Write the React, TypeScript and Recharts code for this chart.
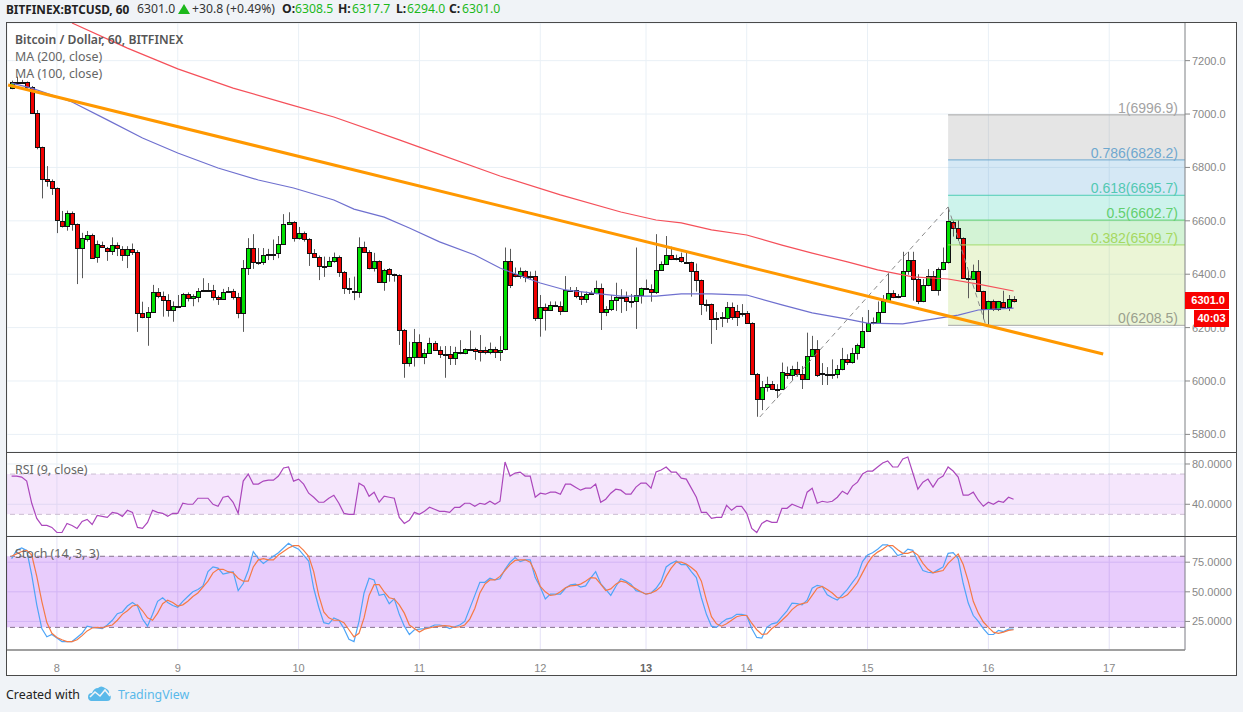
import React from 'react';
import {
  ComposedChart,
  Bar,
  Line,
  XAxis,
  YAxis,
  CartesianGrid,
  ReferenceArea,
  ReferenceLine,
} from 'recharts';

// hourly candles
const candleOpen = [7097,7118,7120,7120,7100,7003,6875,6755,6750,6722,6600,6580,6628,6587,6500,6532,6548,6463,6511,6500,6486,6511,6496,6471,6496,6482,6256,6241,6260,6335,6320,6305,6265,6282,6282,6327,6310,6316,6341,6340,6341,6314,6308,6333,6338,6316,6256,6425,6500,6445,6447,6472,6474,6478,6512,6587,6597,6535,6553,6532,6479,6466,6430,6432,6448,6463,6410,6350,6338,6332,6503,6485,6424,6450,6372,6421,6400,6398,6191,6069,6088,6147,6088,6106,6141,6115,6100,6100,6085,6110,6104,6118,6118,6116,6116,6110,6120,6107,6119,6448,6400,6392,6413,6388,6395,6235,6279,6267,6283,6280,6263,6341,6339,6320,6306,6328,6329,6347,6257,6268,6302,6316,6314,6299,6300,6323,6349,6346,6332,6417,6437,6473,6458,6463,6445,6445,6412,6377,6290,6288,6231,6237,6236,6277,6262,6255,6254,6217,6025,5932,5977,5988,5970,5971,6030,6023,6044,6026,6008,6095,6120,6026,6026,6024,6026,6045,6081,6070,6105,6128,6189,6217,6219,6260,6300,6331,6314,6319,6412,6452,6382,6301,6358,6392,6342,6419,6445,6597,6572,6535,6385,6383,6413,6336,6271,6301,6270,6297,6277,6308.5];
const candleHigh = [7125,7140,7128,7122,7105,7015,6878,6805,6755,6725,6637,6638,6635,6590,6555,6562,6552,6526,6522,6502,6538,6519,6505,6505,6515,6490,6297,6277,6360,6348,6335,6325,6298,6322,6330,6332,6325,6348,6385,6367,6360,6320,6345,6352,6345,6330,6453,6535,6550,6498,6498,6495,6530,6543,6625,6632,6599,6577,6560,6535,6494,6470,6466,6465,6481,6470,6412,6386,6391,6538,6522,6490,6480,6452,6420,6423,6402,6400,6195,6147,6195,6175,6120,6162,6150,6130,6131,6131,6128,6153,6122,6189,6125,6172,6128,6144,6128,6168,6500,6495,6425,6425,6415,6410,6413,6322,6290,6298,6298,6298,6393,6352,6352,6335,6335,6338,6376,6365,6280,6322,6368,6344,6335,6326,6500,6350,6380,6362,6550,6448,6543,6503,6473,6481,6481,6447,6440,6380,6305,6290,6258,6258,6296,6294,6285,6288,6262,6220,6030,6000,6016,6000,5988,6069,6054,6057,6072,6056,6181,6169,6153,6067,6052,6081,6060,6124,6100,6124,6140,6239,6266,6238,6298,6322,6405,6340,6326,6484,6484,6484,6400,6382,6419,6412,6425,6500,6650,6601,6602,6538,6413,6436,6453,6338,6301,6305,6300,6338,6322,6317.7];
const candleLow = [7093,7115,7116,7095,7000,6868,6684,6728,6697,6554,6575,6563,6563,6363,6385,6522,6458,6443,6498,6450,6472,6468,6450,6423,6472,6184,6235,6132,6256,6310,6241,6241,6222,6278,6278,6298,6280,6295,6338,6338,6302,6285,6305,6330,6305,6235,6184,6397,6420,6435,6435,6453,6453,6460,6510,6585,6522,6530,6522,6431,6464,6378,6390,6428,6443,6390,6326,6326,6303,6312,6480,6418,6410,6370,6338,6372,6372,6135,6012,6054,6054,6088,6063,6104,6113,6086,6012,6060,6060,6100,6100,6115,6079,6073,6100,6100,6086,6075,6115,6348,6388,6383,6370,6380,6225,6166,6189,6262,6278,6247,6260,6336,6310,6285,6293,6325,6325,6191,6243,6262,6262,6255,6262,6275,6195,6290,6343,6297,6326,6415,6435,6453,6452,6443,6440,6316,6335,6247,6260,6139,6191,6202,6218,6229,6206,6241,6215,6023,5866,5891,5960,5966,5936,5968,6008,6004,6016,5970,6005,6090,6015,5985,5985,6008,6010,6040,6060,6065,6080,6122,6185,6212,6217,6255,6296,6310,6310,6315,6398,6301,6288,6295,6355,6340,6320,6415,6440,6541,6525,6382,6310,6378,6334,6231,6210,6262,6262,6275,6262,6294];
const candleClose = [7120,7120,7118,7102,7003,6878,6755,6750,6722,6603,6582,6628,6587,6500,6535,6548,6461,6515,6501,6486,6511,6498,6471,6496,6482,6256,6241,6260,6335,6320,6305,6265,6282,6280,6327,6310,6318,6338,6340,6341,6314,6308,6335,6338,6316,6256,6425,6500,6445,6443,6472,6474,6477,6512,6587,6597,6535,6553,6532,6479,6466,6430,6428,6448,6463,6410,6350,6343,6332,6503,6485,6422,6450,6372,6416,6400,6398,6191,6069,6088,6147,6088,6106,6141,6115,6100,6098,6085,6110,6104,6118,6118,6111,6110,6110,6121,6107,6117,6448,6358,6392,6412,6388,6395,6235,6279,6267,6283,6282,6263,6341,6342,6320,6306,6326,6329,6349,6257,6268,6302,6316,6315,6298,6300,6323,6348,6350,6332,6417,6437,6473,6456,6460,6448,6443,6412,6377,6290,6288,6231,6237,6238,6277,6240,6240,6256,6217,6025,5932,5977,5988,5970,5971,6032,6023,6044,6026,6008,6095,6120,6022,6030,6024,6026,6045,6083,6070,6105,6133,6189,6217,6220,6260,6300,6331,6314,6319,6412,6452,6382,6301,6358,6392,6342,6419,6445,6598,6572,6535,6385,6383,6413,6336,6271,6301,6271,6298,6277,6308,6301];

const ma100Idx = [0,4,12,19,26,33,41,49,56,64,68,74,79,85,92,97,105,110,115,121,128,133,139,146,153,159,166,170,177,182,188,192,199];
const ma100Vals = [7116,7097,7045,6978,6910,6854,6798,6753,6723,6678,6644,6614,6573,6521,6472,6423,6367,6341,6330,6318,6318,6326,6326,6322,6285,6255,6232,6217,6214,6229,6247,6266,6273];
const ma200Idx = [12,23,33,44,55,64,77,81,97,109,121,128,133,139,146,153,159,166,172,179,186,192,199];
const ma200Vals = [7341,7247,7169,7097,7037,6989,6903,6876,6768,6697,6633,6603,6592,6566,6547,6509,6479,6446,6416,6390,6382,6363,6337];

const rsiVals = [68,68,67,63,41,26,19,19,17,12,12,21,19,16,23,25,20,29,28,27,32,31,28,34,32,17,16,22,34,32,31,28,31,31,41,40,40,46,46,46,40,38,47,48,42,31,63,70,60,60,63,64,64,68,76,77,63,65,60,51,47,42,42,46,49,41,31,30,30,61,58,48,52,42,48,47,46,27,21,24,32,30,33,37,35,33,33,32,37,37,41,41,38,41,40,43,40,43,82,68,71,72,68,68,47,51,50,52,52,50,60,60,57,54,56,56,60,42,45,51,55,54,50,50,57,61,61,56,72,74,77,72,72,66,65,56,47,32,32,26,27,27,39,34,38,38,31,16,12,21,24,22,22,36,36,40,38,36,52,56,41,43,42,43,47,53,50,58,62,70,73,73,77,81,83,77,77,85,87,71,55,62,65,57,65,68,77,73,67,49,49,52,44,38,42,40,43,42,47,45];
const stochK = [78,85,87,85,64,39,19,12,14,11,8,8,8,11.5,15,21,20,19.5,19,22,26,31.5,33,38,41,38,27,21,31,42,45,41,38.5,37,42,46,50,52,55,67,71,70,65,66,67,51,57,68,84,78,74,77,80,83,87,91,88,86,81,76,53,37,24,23,28,26,19,10,8,25,49,61.5,60,47,48,40,44,31,21,14,18,18.5,19,20,22,22,21,19,20.5,22,25,36,47,58,58,61.5,60,61,69,75,79,75.5,77,77,62,54,44,48,48,48,53,56,56.5,54,55,61.5,67,57,52,47,54.5,61,59,56.5,51,50,48,49,53,59,71,74,76,73,73,67,62,45,31,21,20,24,27,28,31,31,30,19,11.5,11,20,23,24,29,34,40.5,40,39,43,53,55.5,54.5,47.5,45,43,47.5,52,58,63.5,75.5,81,83,86,89.6,89.6,86,80.6,82,86,85,75.5,68,66.5,66,68.5,71,82.5,83,78,57,40.5,30,25,19,14,14,17.5,16.5,18.5,18.5];
const stochD = [80,82,84,85,81,63,42,24,15,11.5,9.5,8,8,9.5,13,17,19.5,20,19.5,21,22,26,31,34,38,39,34,28,26,32,40,43,41,38,39,42,46,49,54,59,66,69,69,67,66,61.5,59,59,71,77,78,77,77,81,84,87,89,89,85,80,67,47,33,28,26,26,24,18,12,15,28,47,56,56,50,45,44,39,32,22,19,16,18.5,19.5,20.5,21,21.5,21,20,20.5,22,27,36,49,56.5,60,60,63,68,73,76.5,77,77,75,66.5,54.5,50,47,47.5,50,53.5,55,55.5,56.5,59,62,61.5,56.5,51,52.5,56.5,59,58,55,52.5,50,48,49,51,54.5,63,70,75,75,73.5,70.5,67,59,43,29,23,21,23,26,29,30,30,23.5,18,14,14.5,19,22,26,30,35,38.5,40,41,47,53,54.5,52,49,45,45,47.5,52.5,58,66,74,80,83.5,86,89,89,85.5,82.5,82.5,84,81,74,69,66,67,68,74,78,82,73,59,42,32,24.5,20,16,15,16,17.5,18];

// fib retracement drawn on the chart
const fibRatios = ['1', '0.786', '0.618', '0.5', '0.382', '0'];
const fibLevels = [6996.9, 6828.2, 6695.7, 6602.7, 6509.7, 6208.5];
const fibLineColors = ['#a8a8a8', '#6fa8cf', '#4fcdb4', '#5fcf70', '#a4dc6c', '#a8a8a8'];
const fibLabelColors = ['#a3a3a3', '#6fa8cf', '#52c9b2', '#62cf6e', '#a6d860', '#9aa08e'];
const fibFillColors = ['#7d7d7d', '#2d8ccd', '#05c3a0', '#23c32d', '#9bcd32'];

const priceTicks = [5800, 6000, 6200, 6400, 6600, 6800, 7000, 7200];
const rsiTicks = [40, 80];
const stochTicks = [25, 50, 75];
const dayIdx = [9, 33, 57, 81, 105, 126, 146, 170, 194, 218];
const dayLabels = ['8', '9', '10', '11', '12', '13', '14', '15', '16', '17'];

// index <-> pixel: first candle at x=11.6, 5.035px per bar
const X_DOMAIN: [number, number] = [-0.914, 233.05];
const FIB_START = 186;

const rows: any[] = candleOpen.map((open, i) => ({
  i,
  open,
  close: candleClose[i],
  high: candleHigh[i],
  low: candleLow[i],
  range: [candleLow[i], candleHigh[i]],
  rsi: rsiVals[i],
  k: stochK[i],
  d: stochD[i],
}));
ma100Idx.forEach((idx, n) => { rows[idx].ma100 = ma100Vals[n]; });
ma200Idx.forEach((idx, n) => { rows[idx].ma200 = ma200Vals[n]; });

const Candle = (props: any) => {
  const { x, y, width, height, payload } = props;
  const { open, close, high, low } = payload;
  // snap to the pixel grid so the 1px borders stay crisp
  const cx = Math.round(x + width / 2 - 0.5) + 0.5;
  const perUnit = height / (high - low || 1);
  const top = Math.round(y + (high - Math.max(open, close)) * perUnit) + 0.5;
  const bottom = Math.round(y + (high - Math.min(open, close)) * perUnit) + 0.5;
  return (
    <g>
      <line x1={cx} x2={cx} y1={y} y2={y + height} stroke="#5a5a5a" strokeWidth={1} />
      <rect
        x={cx - 2}
        y={top}
        width={4}
        height={Math.max(bottom - top, 1)}
        fill={close >= open ? '#00e000' : '#f00000'}
        stroke="#111"
        strokeWidth={1}
      />
    </g>
  );
};

const FibLabel = ({ viewBox, text, color }: any) => (
  <text
    x={viewBox.x + viewBox.width - 7}
    y={viewBox.y - 2}
    textAnchor="end"
    fontFamily="Liberation Sans"
    fontSize={14}
    fill={color}
  >
    {text}
  </text>
);

const axisFont = { fontFamily: 'Liberation Sans', fontSize: 11, fill: '#888' };

const DayTick = ({ x, y, payload }: any) => {
  const label = dayLabels[dayIdx.indexOf(payload.value)];
  return (
    <text
      x={x}
      y={y + 14}
      textAnchor="middle"
      fontFamily="Liberation Sans"
      fontSize={11}
      fontWeight={label === '13' ? 700 : 400}
      fill={label === '13' ? '#666' : '#888'}
    >
      {label}
    </text>
  );
};

const PriceAxis = ({ ticks, domain, digits }: any) => (
  <YAxis
    orientation="right"
    width={52}
    domain={domain}
    ticks={ticks}
    allowDataOverflow
    interval={0}
    tick={axisFont}
    tickSize={5}
    tickMargin={2}
    stroke="#888"
    tickFormatter={(v: number) => v.toFixed(digits)}
  />
);

const Txt = ({ x, y, color = '#555', size = 13, weight = 400, font = 'Noto Sans', children }: any) => (
  <div
    style={{
      position: 'absolute',
      left: x,
      top: y,
      color,
      fontSize: size,
      fontWeight: weight,
      fontFamily: font,
      lineHeight: '16px',
      whiteSpace: 'nowrap',
    }}
  >
    {children}
  </div>
);

const Rule = ({ x, y, w, h, color }: any) => (
  <div style={{ position: 'absolute', left: x, top: y, width: w, height: h, background: color }} />
);

const HEADER_GREEN = '#1cb81c';

export default function App() {
  return (
    <div style={{ position: 'fixed', left: 0, top: 0, width: 1243, height: 712, background: '#f0f3f7', overflow: 'hidden' }}>
      <div style={{ position: 'absolute', left: 7, top: 23, width: 1230, height: 652, background: '#fff' }} />

      {/* price pane */}
      <div style={{ position: 'absolute', left: 7, top: 23 }}>
        <ComposedChart width={1230} height={429} data={rows} margin={{ top: 0, right: 0, bottom: 0, left: 0 }}>
          <CartesianGrid stroke="#e9f0f6" />
          <XAxis dataKey="i" type="number" domain={X_DOMAIN} ticks={dayIdx} allowDataOverflow hide />
          {PriceAxis({ ticks: priceTicks, domain: [5734, 7341], digits: 1 })}
          <Bar dataKey="range" barSize={4} shape={Candle} isAnimationActive={false} />
          <Line dataKey="ma200" stroke="#f5505a" strokeWidth={1.2} dot={false} connectNulls isAnimationActive={false} />
          <Line dataKey="ma100" stroke="#6f70cf" strokeWidth={1.2} dot={false} connectNulls isAnimationActive={false} />
          {fibFillColors.map((fill, n) => (
            <ReferenceArea
              key={fill}
              x1={FIB_START}
              x2={X_DOMAIN[1]}
              y1={fibLevels[n + 1]}
              y2={fibLevels[n]}
              fill={fill}
              fillOpacity={0.2}
              stroke="none"
            />
          ))}
          {fibLevels.map((level, n) => (
            <ReferenceLine
              key={level}
              segment={[{ x: FIB_START, y: level }, { x: X_DOMAIN[1], y: level }]}
              stroke={fibLineColors[n]}
              strokeWidth={1}
              label={<FibLabel text={`${fibRatios[n]}(${level.toFixed(1)})`} color={fibLabelColors[n]} />}
            />
          ))}
          <ReferenceLine
            segment={[{ x: 148.6, y: 5865 }, { x: FIB_START, y: 6652 }]}
            stroke="#8a8a8a"
            strokeDasharray="5 4"
          />
          <ReferenceLine
            segment={[{ x: FIB_START, y: 6652 }, { x: 193.5, y: 6208.5 }]}
            stroke="#8a8a8a"
            strokeDasharray="5 4"
          />
          <ReferenceLine
            segment={[{ x: -0.7, y: 7109 }, { x: 216.8, y: 6101 }]}
            stroke="#ff9800"
            strokeWidth={3}
          />
        </ComposedChart>
      </div>

      {/* RSI pane */}
      <div style={{ position: 'absolute', left: 7, top: 452 }}>
        <ComposedChart width={1230} height={84} data={rows} margin={{ top: 0, right: 0, bottom: 0, left: 0 }}>
          <ReferenceArea y1={30} y2={70} fill="#9b05e1" fillOpacity={0.1} stroke="none" />
          <CartesianGrid stroke="#e9f0f6" />
          <XAxis dataKey="i" type="number" domain={X_DOMAIN} ticks={dayIdx} allowDataOverflow hide />
          {PriceAxis({ ticks: rsiTicks, domain: [8.5, 91.9], digits: 4 })}
          <ReferenceLine y={70} stroke="#cbbdd2" strokeDasharray="5 4" />
          <ReferenceLine y={30} stroke="#cbbdd2" strokeDasharray="5 4" />
          <Line dataKey="rsi" stroke="#ab47bc" strokeWidth={1.2} dot={false} isAnimationActive={false} />
        </ComposedChart>
      </div>

      {/* stochastic pane + time axis */}
      <div style={{ position: 'absolute', left: 7, top: 536 }}>
        <ComposedChart width={1230} height={139} data={rows} margin={{ top: 0, right: 0, bottom: 0, left: 0 }}>
          <ReferenceArea y1={20} y2={80} fill="#9717f1" fillOpacity={0.22} stroke="none" />
          <CartesianGrid stroke="#e4e2f6" />
          <XAxis
            dataKey="i"
            type="number"
            height={25}
            domain={X_DOMAIN}
            ticks={dayIdx}
            allowDataOverflow
            interval={0}
            tickLine={false}
            stroke="#a0a0a0"
            strokeWidth={2}
            tick={<DayTick />}
          />
          {PriceAxis({ ticks: stochTicks, domain: [0.9, 97.1], digits: 4 })}
          <ReferenceLine y={80} stroke="#84708c" strokeDasharray="5 4" />
          <ReferenceLine y={20} stroke="#84708c" strokeDasharray="5 4" />
          <Line dataKey="k" stroke="#4ea5f7" strokeWidth={1.2} dot={false} isAnimationActive={false} />
          <Line dataKey="d" stroke="#f57a45" strokeWidth={1.2} dot={false} isAnimationActive={false} />
        </ComposedChart>
      </div>

      {/* frame */}
      <Rule x={6} y={22} w={1231} h={1} color="#4a4a4a" />
      <Rule x={6} y={22} w={1} h={653} color="#4a4a4a" />
      <Rule x={1236} y={22} w={1} h={653} color="#4a4a4a" />
      <Rule x={6} y={675} w={1231} h={1} color="#4a4a4a" />
      <Rule x={6} y={452} w={1231} h={1} color="#4a4a4a" />
      <Rule x={6} y={536} w={1231} h={1} color="#4a4a4a" />

      {/* header */}
      <Txt x={6} y={1} color="#222" weight={700} size={11.8}>BITFINEX:BTCUSD, 60</Txt>
      <Txt x={137} y={1} color="#333" size={12.2}>6301.0</Txt>
      <svg style={{ position: 'absolute', left: 178, top: 3 }} width={12} height={12}>
        <polygon points="6,1 12,11 0,11" fill={HEADER_GREEN} />
      </svg>
      <Txt x={192} y={1} color="#333" size={12.2}>+30.8 (+0.49%)</Txt>
      <Txt x={282} y={1} color="#222" weight={700} size={12.2}>O:</Txt>
      <Txt x={295} y={1} color={HEADER_GREEN} size={12.2}>6308.5</Txt>
      <Txt x={338} y={1} color="#222" weight={700} size={12.2}>H:</Txt>
      <Txt x={352} y={1} color={HEADER_GREEN} size={12.2}>6317.7</Txt>
      <Txt x={396} y={1} color="#222" weight={700} size={12.2}>L:</Txt>
      <Txt x={407} y={1} color={HEADER_GREEN} size={12.2}>6294.0</Txt>
      <Txt x={449} y={1} color="#222" weight={700} size={12.2}>C:</Txt>
      <Txt x={462} y={1} color={HEADER_GREEN} size={12.2}>6301.0</Txt>

      {/* pane legends */}
      <Txt x={15} y={32} color="#555" weight={600} size={12.2}>Bitcoin / Dollar, 60, BITFINEX</Txt>
      <Txt x={15} y={49} color="#666" size={12.4}>MA (200, close)</Txt>
      <Txt x={15} y={66} color="#666" size={12.4}>MA (100, close)</Txt>
      <Txt x={15} y={462} color="#666" size={12.4}>RSI (9, close)</Txt>
      <Txt x={15} y={546} color="#666" size={12.4}>Stoch (14, 3, 3)</Txt>

      {/* last price + countdown tags */}
      <div style={{ position: 'absolute', left: 1185, top: 292, width: 44, height: 17, background: '#f80000', color: '#fff', fontFamily: 'Liberation Sans', fontWeight: 700, fontSize: 11, lineHeight: '17px', textAlign: 'right', paddingRight: 4, boxSizing: 'border-box' }}>6301.0</div>
      <div style={{ position: 'absolute', left: 1194, top: 310, width: 35, height: 17, background: '#f80000', color: '#fff', fontFamily: 'Liberation Sans', fontWeight: 700, fontSize: 11, lineHeight: '17px', textAlign: 'center' }}>40:03</div>

      {/* footer */}
      <Txt x={6} y={687} color="#222" size={12.4}>Created with</Txt>
      <svg style={{ position: 'absolute', left: 87, top: 685 }} width={25} height={17} viewBox="0 0 25 17">
        <path d="M1 12 Q1 8 5 8 Q7 3 11 3 Q14 0 18 3 Q23 5 22 9 Q25 11 23 15 Q22 16 20 16 L4 16 Q1 15 1 12 Z" fill="#5ab9ea" />
        <polyline points="3,12 8,7 13,11 18,5 23,11" fill="none" stroke="#f0f3f7" strokeWidth={1.6} />
      </svg>
      <Txt x={118} y={687} color="#5ab9ea" size={12.4}>TradingView</Txt>
    </div>
  );
}
